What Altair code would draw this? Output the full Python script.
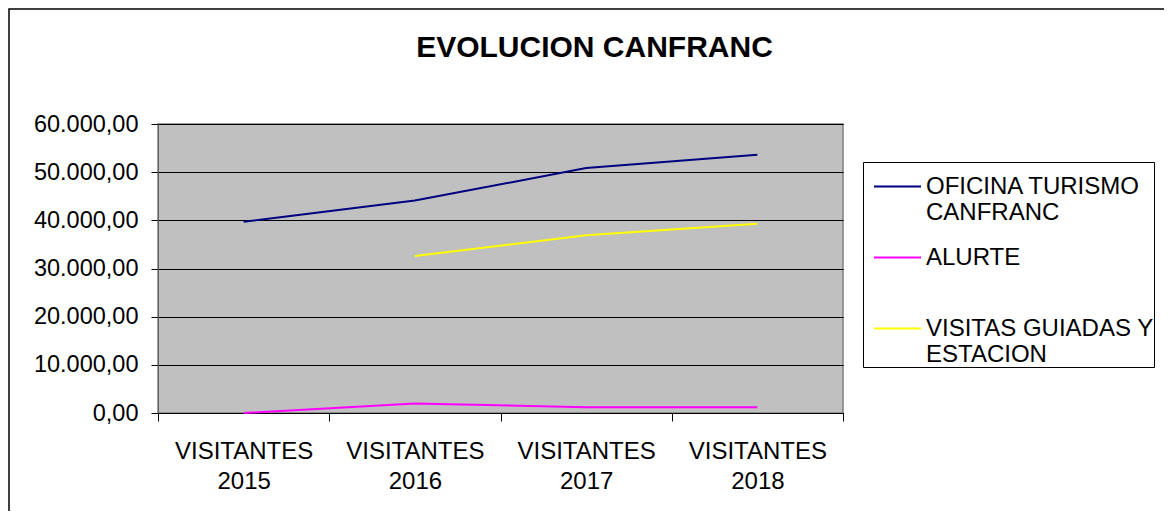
import altair as alt
import pandas as pd

categories = ["VISITANTES 2015", "VISITANTES 2016", "VISITANTES 2017", "VISITANTES 2018"]
series_names = ["OFICINA TURISMO\nCANFRANC", "ALURTE\n", "VISITAS GUIADAS Y\nESTACION"]
oficina = [39700, 44100, 50850, 53600]
alurte = [0, 1950, 1200, 1200]
visitas = [None, 32600, 36900, 39300]
colors = ["#000080", "#FF00FF", "#FFFF00"]

rows = []
for name, vals in zip(series_names, [oficina, alurte, visitas]):
    for c, v in zip(categories, vals):
        rows.append({"cat": c, "serie": name, "valor": v})
df = pd.DataFrame(rows)

FONT = "Liberation Sans"
W, H = 685, 289

lines = alt.Chart(df).mark_line(strokeWidth=2).encode(
    x=alt.X("cat:N", sort=categories, title=None,
            scale=alt.Scale(paddingInner=0, paddingOuter=0),
            axis=alt.Axis(labelAngle=0, labelExpr="split(datum.label, ' ')",
                          labelFontSize=24, labelLineHeight=30, labelPadding=18,
                          tickBand="extent", tickSize=8, tickColor="black",
                          domainColor="black", labelColor="black", grid=False,
                          labelFont=FONT)),
    y=alt.Y("valor:Q", title=None,
            scale=alt.Scale(domain=[0, 60000], nice=False),
            axis=alt.Axis(values=[0, 10000, 20000, 30000, 40000, 50000, 60000],
                          labelExpr="datum.value == 0 ? '0,00' : format(datum.value/1000, '.3f') + ',00'",
                          labelFontSize=23.5, labelPadding=13, tickSize=7, tickColor="black",
                          domainColor="#606060", labelColor="black", grid=True,
                          gridColor="black", gridOpacity=1, gridWidth=1, labelFont=FONT)),
    color=alt.Color("serie:N", title=None,
                    scale=alt.Scale(domain=series_names, range=colors),
                    legend=alt.Legend(orient="none", legendX=705, legendY=38,
                                      symbolType="stroke", symbolSize=2209,
                                      symbolStrokeWidth=2, symbolOffset=10, labelOffset=4,
                                      labelExpr="split(datum.label, '\\n')",
                                      labelFontSize=24, labelFont=FONT, labelColor="black",
                                      labelLimit=400, labelBaseline="middle",
                                      rowPadding=8, padding=0,
                                      strokeColor="black", fillColor="white")),
)

border = alt.Chart(pd.DataFrame({"a": [0]})).mark_rect(
    filled=False, stroke="black", strokeWidth=1.5
).encode(
    x=alt.value(-149), x2=alt.value(1100), y=alt.value(-115), y2=alt.value(600)
)

chart = alt.layer(border, lines).properties(
    width=W, height=H,
    title=alt.TitleParams("EVOLUCION CANFRANC", fontSize=30, font=FONT, fontWeight="bold",
                          anchor="middle", frame="group", dx=94, dy=79, offset=0,
                          baseline="alphabetic", color="black"),
    autosize=alt.AutoSizeParams(type="none"),
    padding={"left": 150, "top": 116, "right": 1156 - 150 - W, "bottom": 503 - 116 - H},
).configure_view(fill="#C0C0C0", stroke="#808080", strokeWidth=1.5)

chart.save("out.html", embed_options={"renderer": "svg", "actions": False})
